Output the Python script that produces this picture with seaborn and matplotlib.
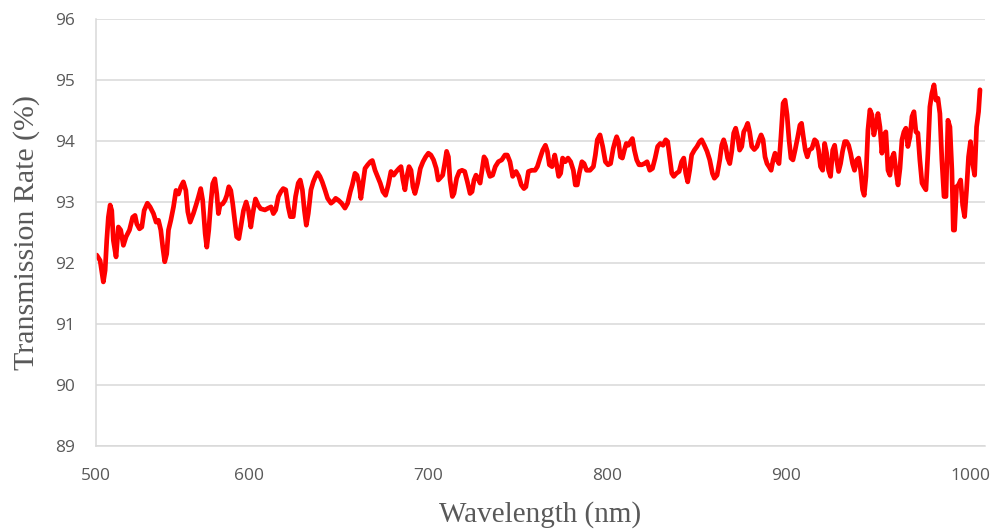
import matplotlib
matplotlib.use("Agg")
import matplotlib.pyplot as plt
import seaborn as sns
import pandas as pd

# ---- data ----
wl_a = [514.9, 516.8, 518.6, 519.6, 520.5, 521.4, 522.4, 523.3, 524.2, 525.7,
        527.0, 528.3, 529.8, 531.3, 533.2, 535.0, 536.3, 537.3, 538.8, 540.1,
        541.4, 543.2, 544.7, 546.6, 548.1, 549.4, 550.7, 551.8, 552.9, 554.0,
        555.0, 556.3, 557.8, 559.2, 560.6, 561.9, 563.3, 564.7, 565.8, 567.1,
        568.9, 570.4, 571.7, 573.0, 574.1, 575.5, 576.4, 577.5, 578.6, 579.7,
        580.9, 582.0, 582.9, 583.8, 585.3, 586.6, 587.6, 588.7, 589.8, 590.9,
        592.0, 593.1, 594.3, 595.4, 596.9, 598.4, 599.7, 601.0, 602.1, 603.6,
        605.1, 606.5]
tr_a = [92.13, 92.04, 91.69, 91.88, 92.37, 92.75, 92.95, 92.86, 92.37, 92.10,
        92.59, 92.54, 92.29, 92.43, 92.54, 92.75, 92.78, 92.64, 92.56, 92.59,
        92.86, 92.98, 92.92, 92.81, 92.67, 92.70, 92.54, 92.26, 92.02, 92.15,
        92.54, 92.70, 92.92, 93.19, 93.13, 93.25, 93.33, 93.19, 92.84, 92.67,
        92.81, 92.95, 93.08, 93.22, 93.03, 92.48, 92.26, 92.54, 92.97, 93.30,
        93.38, 93.13, 92.81, 92.95, 92.97, 93.03, 93.11, 93.25, 93.19, 92.97,
        92.70, 92.43, 92.40, 92.59, 92.86, 93.00, 92.86, 92.59, 92.81, 93.05,
        92.95, 92.89]

wl_b = [608.9, 610.8, 612.3, 613.6, 614.9, 616.4, 617.8, 619.1, 620.5, 621.9,
        623.1, 624.7, 626.0, 627.5, 628.6, 629.8, 630.9, 632.0, 633.1, 634.6,
        635.9, 637.2, 638.3, 639.6, 640.9, 642.4, 643.9, 645.8, 647.1, 648.4,
        649.9, 651.7, 653.6, 655.1, 656.6, 657.7, 659.2, 660.3, 661.4, 662.5,
        663.7, 664.8, 666.3, 667.8, 668.9, 670.4, 671.8, 673.3, 674.8, 676.3,
        677.8, 679.3, 680.8, 682.3, 683.8, 684.9, 686.0, 687.1, 688.2, 689.4,
        690.5, 691.6, 692.7, 694.2, 695.7, 697.2, 698.7, 700.2, 701.6, 703.1,
        704.6, 705.7]
tr_b = [92.87, 92.90, 92.92, 92.81, 92.87, 93.09, 93.17, 93.22, 93.20, 92.92,
        92.76, 92.76, 93.09, 93.31, 93.36, 93.20, 92.87, 92.62, 92.81, 93.20,
        93.33, 93.42, 93.48, 93.42, 93.33, 93.20, 93.06, 92.98, 93.01, 93.06,
        93.03, 92.98, 92.90, 92.98, 93.17, 93.28, 93.47, 93.44, 93.31, 93.06,
        93.31, 93.55, 93.61, 93.66, 93.68, 93.52, 93.42, 93.31, 93.17, 93.11,
        93.28, 93.50, 93.44, 93.50, 93.55, 93.58, 93.36, 93.20, 93.42, 93.58,
        93.52, 93.25, 93.14, 93.31, 93.55, 93.66, 93.74, 93.80, 93.77, 93.69,
        93.55, 93.36]

wl_c = [706.7, 708.2, 709.5, 710.4, 711.4, 712.3, 713.6, 714.5, 716.0, 717.5,
        719.0, 720.5, 722.0, 723.5, 724.6, 725.7, 726.8, 727.9, 729.1, 730.2,
        731.3, 732.4, 733.5, 734.6, 736.1, 737.6, 739.3, 741.2, 743.0, 744.3,
        745.8, 747.3, 749.2, 750.7, 752.1, 753.6, 754.7, 756.1, 757.9, 759.8,
        761.1, 762.6, 764.1, 765.6, 766.7, 767.8, 769.3, 770.8, 771.9, 773.0,
        774.1, 775.2, 776.7, 778.2, 779.7, 781.2, 782.3, 783.4, 784.5, 786.0,
        787.2, 788.6, 790.5, 792.4, 793.5, 794.6, 796.1, 797.6, 799.1, 800.6,
        802.0, 803.5]
tr_c = [93.39, 93.44, 93.66, 93.83, 93.74, 93.36, 93.09, 93.14, 93.39, 93.50,
        93.52, 93.50, 93.33, 93.14, 93.17, 93.36, 93.44, 93.39, 93.31, 93.52,
        93.74, 93.69, 93.52, 93.42, 93.44, 93.58, 93.66, 93.69, 93.77, 93.77,
        93.66, 93.42, 93.50, 93.42, 93.28, 93.22, 93.25, 93.50, 93.52, 93.52,
        93.58, 93.72, 93.85, 93.93, 93.83, 93.61, 93.58, 93.77, 93.61, 93.42,
        93.47, 93.72, 93.66, 93.72, 93.66, 93.52, 93.28, 93.28, 93.47, 93.66,
        93.63, 93.52, 93.52, 93.58, 93.77, 94.02, 94.10, 93.91, 93.66, 93.61,
        93.63, 93.88]

wl_d = [804.5, 805.4, 806.4, 807.5, 808.6, 809.7, 810.8, 812.0, 813.1, 814.2,
        815.3, 816.6, 817.9, 819.4, 820.9, 822.4, 823.9, 825.4, 826.9, 828.3,
        829.8, 831.3, 832.8, 833.9, 835.0, 836.2, 837.3, 838.8, 840.3, 841.7,
        842.9, 844.0, 845.1, 846.2, 847.3, 848.8, 850.3, 851.8, 852.9, 854.4,
        855.9, 857.4, 858.9, 860.0, 861.5, 863.0, 864.1, 865.2, 866.3, 867.4,
        868.6, 869.7, 870.8, 871.9, 873.0, 874.1, 875.3, 876.4, 877.5, 878.6,
        879.7, 880.9, 882.3, 883.8, 885.0, 886.1, 887.2, 888.3, 889.4, 890.5,
        891.7, 892.8, 893.9, 895.0, 896.1, 897.2, 898.4, 899.5, 900.6, 901.7,
        902.8, 903.9, 905.1, 906.6]
tr_d = [93.99, 94.07, 93.99, 93.74, 93.72, 93.85, 93.96, 93.93, 93.99, 94.04,
        93.85, 93.69, 93.61, 93.61, 93.63, 93.66, 93.52, 93.55, 93.72, 93.91,
        93.96, 93.93, 94.02, 93.99, 93.74, 93.47, 93.42, 93.47, 93.50, 93.66,
        93.72, 93.47, 93.33, 93.52, 93.77, 93.85, 93.91, 93.99, 94.02, 93.93,
        93.83, 93.69, 93.47, 93.39, 93.44, 93.69, 93.93, 94.02, 93.91, 93.72,
        93.63, 93.83, 94.13, 94.21, 94.07, 93.85, 93.91, 94.15, 94.21, 94.29,
        94.15, 93.91, 93.86, 93.91, 94.02, 94.10, 94.02, 93.74, 93.63, 93.58,
        93.52, 93.69, 93.80, 93.69, 93.63, 94.07, 94.62, 94.67, 94.43, 94.02,
        93.72, 93.69, 93.85, 94.07]

wl_e = [907.8, 908.7, 909.7, 910.8, 911.9, 913.0, 914.5, 916.0, 917.1, 918.2,
        919.3, 920.5, 921.6, 922.7, 923.8, 924.9, 926.1, 927.2, 928.3, 929.4,
        930.5, 931.6, 932.8, 933.9, 935.0, 936.1, 937.2, 938.3, 939.5, 940.6,
        941.7, 942.8, 943.7, 944.7, 945.8, 946.9, 948.0, 949.1, 950.3, 951.4,
        952.5, 953.6, 954.7, 955.8, 957.0, 958.1, 959.2, 960.3, 961.4, 962.6,
        963.7, 964.8, 965.9, 967.0, 968.1, 969.3, 970.4, 971.5, 972.6, 973.7,
        974.8, 976.0, 977.1, 978.2, 979.3, 980.4, 981.5, 982.7, 983.8, 984.9,
        986.0, 987.1, 988.3, 989.4, 990.5, 991.6, 992.7, 993.5, 994.2, 995.3,
        996.4, 997.6, 998.7, 999.8, 1000.9, 1002.0, 1003.1, 1004.3, 1005.4, 1006.5,
        1007.6, 1008.4]
tr_e = [94.26, 94.29, 94.07, 93.85, 93.74, 93.85, 93.88, 94.02, 93.99, 93.85,
        93.58, 93.52, 93.96, 93.80, 93.52, 93.42, 93.85, 93.93, 93.69, 93.50,
        93.63, 93.83, 93.99, 93.99, 93.93, 93.80, 93.63, 93.52, 93.69, 93.72,
        93.52, 93.20, 93.11, 93.42, 94.18, 94.51, 94.43, 94.10, 94.26, 94.45,
        94.23, 93.80, 94.10, 94.15, 93.52, 93.44, 93.72, 93.80, 93.52, 93.28,
        93.55, 94.02, 94.15, 94.21, 93.91, 94.07, 94.40, 94.48, 94.15, 94.13,
        93.69, 93.31, 93.25, 93.20, 93.80, 94.56, 94.78, 94.92, 94.67, 94.70,
        94.45, 93.69, 93.09, 93.09, 94.34, 94.23, 93.52, 92.54, 92.54, 93.25,
        93.28, 93.36, 92.95, 92.76, 93.20, 93.74, 93.99, 93.63, 93.44, 94.23,
        94.48, 94.84]

y_ticks = [89, 90, 91, 92, 93, 94, 95, 96]
x_major_ticks = [600, 700, 800, 900]
x_major_labels = ["600", "700", "800", "900"]
x_edge_ticks = [514.5, 1002.8]
x_edge_labels = ["500", "1000"]
x_label = "Wavelength (nm)"
y_label = "Transmission Rate (%)"

df = pd.DataFrame({
    "wavelength": wl_a + wl_b + wl_c + wl_d + wl_e,
    "transmission": tr_a + tr_b + tr_c + tr_d + tr_e,
})

# ---- style ----
sns.set_style("white")
plt.rcParams["font.family"] = ["Open Sans", "DejaVu Sans"]

grid_c = "#d9d9d9"
text_c = "#595959"

fig = plt.figure(figsize=(9.95, 5.31), dpi=100)
ax = fig.add_axes([96 / 995, 1 - 446 / 531, (985 - 96) / 995, (446 - 19) / 531])

sns.lineplot(data=df, x="wavelength", y="transmission", ax=ax,
             color="#ff0000", linewidth=3.4, estimator=None, sort=False)

ax.set_xlim(514.5, 1011.2)
ax.set_ylim(89, 96)

ax.set_yticks(y_ticks)
ax.set_yticklabels([str(v) for v in y_ticks])
ax.yaxis.grid(True, color=grid_c, linewidth=1.1)
ax.xaxis.grid(False)
ax.set_axisbelow(True)

ax.set_xticks(x_major_ticks)
ax.set_xticklabels(x_major_labels)
ax.set_xticks(x_edge_ticks, minor=True)
ax.set_xticklabels(x_edge_labels, minor=True)

ax.tick_params(axis="x", which="major", direction="in", length=12, width=1,
               color=grid_c, pad=16, labelsize=12.5, labelcolor=text_c)
ax.tick_params(axis="x", which="minor", length=0, pad=16,
               labelsize=12.5, labelcolor=text_c)
ax.tick_params(axis="y", length=0, pad=15, labelsize=12.5, labelcolor=text_c)

for side in ["top", "right"]:
    ax.spines[side].set_visible(False)
for side in ["left", "bottom"]:
    ax.spines[side].set_color(grid_c)
    ax.spines[side].set_linewidth(1.1)

ax.set_xlabel(x_label, family=["Liberation Serif"], fontsize=21,
              color=text_c, labelpad=12)
ax.set_ylabel(y_label, family=["Liberation Serif"], fontsize=21.5,
              color=text_c, labelpad=11)

fig.savefig("out.png", dpi=100)
